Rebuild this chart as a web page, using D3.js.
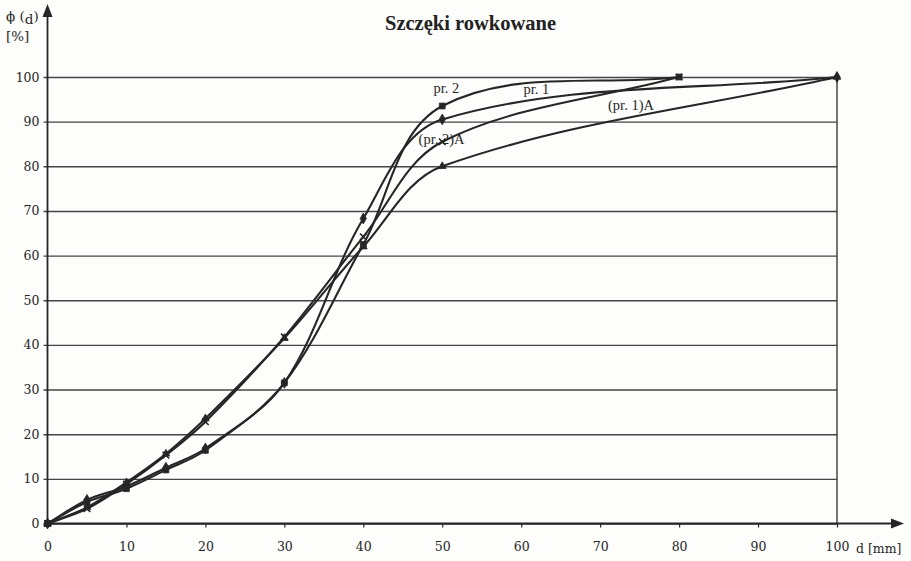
<!DOCTYPE html>
<html lang="pl">
<head>
<meta charset="UTF-8">
<title>Szczęki rowkowane</title>
<script src="https://d3js.org/d3.v7.min.js"></script>
<style>
  * { margin: 0; padding: 0; box-sizing: border-box; }
  body { background: #fdfdfc; width: 911px; height: 561px; overflow: hidden; }
  svg { display: block; }
  .tick text { font-family: 'DejaVu Serif', serif; font-size: 12.5px; fill: #262626; }
  .domain { display: none; }
</style>
</head>
<body>
<svg id="chart" width="911" height="561"></svg>
<script>
// axis ticks
var xTicks = [0, 10, 20, 30, 40, 50, 60, 70, 80, 90, 100]
var yTicks = [0, 10, 20, 30, 40, 50, 60, 70, 80, 90, 100]

// d [mm] -> phi(d) [%]
var pr2X = [0, 5, 10, 15, 20, 30, 40, 50, 80]
var pr2Y = [0, 4.8, 7.8, 12, 16.4, 31.5, 62.5, 93.5, 100]

var pr1X = [0, 5, 10, 15, 20, 30, 40, 50, 100]
var pr1Y = [0, 5.3, 8.3, 12.5, 16.8, 31.5, 68.3, 90.5, 100]

var pr2AX = [0, 5, 10, 15, 20, 30, 40, 50, 80]
var pr2AY = [0, 3.3, 8.8, 15.3, 22.8, 41.8, 64.2, 85.5, 100]

var pr1AX = [0, 5, 10, 15, 20, 30, 40, 50, 100]
var pr1AY = [0, 3.6, 9.2, 15.6, 23.5, 41.5, 62, 80, 100]

var seriesNames = ['pr. 2', 'pr. 1', '(pr. 2)A', '(pr. 1)A']
// where each name is written (in data units)
var labelX = [48.9, 60.3, 47.0, 71.0]
var labelY = [96.4, 96.1, 85.0, 92.6]

var series = [
  { name: seriesNames[0], xs: pr2X, ys: pr2Y, symbol: d3.symbolSquare, size: 34 },
  { name: seriesNames[1], xs: pr1X, ys: pr1Y, symbol: d3.symbolDiamond, size: 34 },
  { name: seriesNames[2], xs: pr2AX, ys: pr2AY, symbol: d3.symbolTimes, size: 30, stroke: true },
  { name: seriesNames[3], xs: pr1AX, ys: pr1AY, symbol: d3.symbolTriangle, size: 26 }
]

var ink = '#262626'
var svg = d3.select('#chart')

var x = d3.scaleLinear().domain([0, 100]).range([47.5, 837])
var y = d3.scaleLinear().domain([0, 100]).range([523.5, 77])

// spreadsheet-style smoothing: tangent direction from the neighbours,
// handle length a third of each segment (no loops on uneven spacing)
function Smooth(context) { this._context = context }
Smooth.prototype = {
  areaStart: function() {},
  areaEnd: function() {},
  lineStart: function() { this._pts = [] },
  point: function(px, py) { this._pts.push([+px, +py]) },
  lineEnd: function() {
    var p = this._pts, n = p.length, c = this._context
    if (!n) return
    var dir = p.map(function(_, i) {
      var a = p[Math.max(0, i - 1)], b = p[Math.min(n - 1, i + 1)]
      var dx = b[0] - a[0], dy = b[1] - a[1], len = Math.hypot(dx, dy) || 1
      return [dx / len, dy / len]
    })
    c.moveTo(p[0][0], p[0][1])
    for (var i = 0; i < n - 1; i++) {
      var L = Math.hypot(p[i + 1][0] - p[i][0], p[i + 1][1] - p[i][1]) / 3
      c.bezierCurveTo(
        p[i][0] + dir[i][0] * L, p[i][1] + dir[i][1] * L,
        p[i + 1][0] - dir[i + 1][0] * L, p[i + 1][1] - dir[i + 1][1] * L,
        p[i + 1][0], p[i + 1][1])
    }
  }
}
function curveSmooth(context) { return new Smooth(context) }

// title
svg.append('text')
  .attr('x', 470.5).attr('y', 30)
  .attr('text-anchor', 'middle')
  .attr('font-family', "'Liberation Serif', serif")
  .attr('font-weight', 'bold')
  .attr('font-size', '20.5px')
  .attr('fill', '#222')
  .text('Szczęki rowkowane')

// horizontal grid + y labels
var yAxis = svg.append('g')
  .attr('transform', 'translate(' + x(0) + ',0)')
  .call(d3.axisLeft(y).tickValues(yTicks).tickSizeInner(-(x(100) - x(0))).tickSizeOuter(0).tickPadding(8))
yAxis.selectAll('.tick line')
  .attr('x1', -4)
  .attr('stroke', '#454545')
  .attr('stroke-width', 1.4)

// x labels + small ticks
var xAxis = svg.append('g')
  .attr('transform', 'translate(0,' + y(0) + ')')
  .call(d3.axisBottom(x).tickValues(xTicks).tickSize(4).tickPadding(15))
xAxis.selectAll('.tick line').attr('stroke', ink).attr('stroke-width', 1.2)

svg.append('text')
  .attr('x', x(100) + 19).attr('y', y(0) + 29)
  .attr('font-family', "'DejaVu Serif', serif")
  .attr('font-size', '12.5px')
  .attr('fill', '#262626')
  .text('d [mm]')

// right border at d = 100
svg.append('line')
  .attr('x1', x(100)).attr('x2', x(100))
  .attr('y1', y(100)).attr('y2', y(0))
  .attr('stroke', '#3a3a3a').attr('stroke-width', 1.4)

// axes with arrows
svg.append('line')
  .attr('x1', x(0)).attr('x2', x(0))
  .attr('y1', y(0) + 2).attr('y2', 12)
  .attr('stroke', ink).attr('stroke-width', 1.8)
svg.append('path')
  .attr('d', 'M' + x(0) + ',4 l-5,13 l10,0 z')
  .attr('fill', ink)
svg.append('line')
  .attr('x1', x(0) - 2).attr('x2', 895)
  .attr('y1', y(0)).attr('y2', y(0))
  .attr('stroke', ink).attr('stroke-width', 1.8)
svg.append('path')
  .attr('d', 'M904,' + y(0) + ' l-13,-5 l0,10 z')
  .attr('fill', ink)

// y axis title
var yt = svg.append('text')
  .attr('x', 6).attr('y', 21)
  .attr('font-family', "'DejaVu Serif', serif")
  .attr('font-size', '13.5px')
  .attr('fill', '#262626')
yt.append('tspan').text('ϕ (')
yt.append('tspan').attr('dy', 3).text('d')
yt.append('tspan').attr('dy', -3).text(')')
svg.append('text')
  .attr('x', 6).attr('y', 41)
  .attr('font-family', "'DejaVu Serif', serif")
  .attr('font-size', '13.5px')
  .attr('fill', '#262626')
  .text('[%]')

// curves
var line = d3.line()
  .x(function(d) { return x(d[0]) })
  .y(function(d) { return y(d[1]) })
  .curve(curveSmooth)

var g = svg.append('g')
series.forEach(function(s) {
  var pts = s.xs.map(function(v, i) { return [v, s.ys[i]] })
  g.append('path')
    .datum(pts)
    .attr('d', line)
    .attr('fill', 'none')
    .attr('stroke', ink)
    .attr('stroke-width', 2.1)
    .attr('stroke-linejoin', 'round')

  g.selectAll(null)
    .data(pts)
    .join('path')
    .attr('transform', function(d) { return 'translate(' + x(d[0]) + ',' + y(d[1]) + ')' })
    .attr('d', d3.symbol().type(s.symbol).size(s.size))
    .attr('fill', s.stroke ? 'none' : ink)
    .attr('stroke', ink)
    .attr('stroke-width', s.stroke ? 1.6 : 0.8)
})

// series names
svg.append('g')
  .selectAll('text')
  .data(seriesNames)
  .join('text')
  .attr('x', function(d, i) { return x(labelX[i]) })
  .attr('y', function(d, i) { return y(labelY[i]) })
  .attr('font-family', "'Liberation Serif', serif")
  .attr('font-size', '14.5px')
  .attr('fill', '#262626')
  .text(function(d) { return d })
</script>
</body>
</html>
